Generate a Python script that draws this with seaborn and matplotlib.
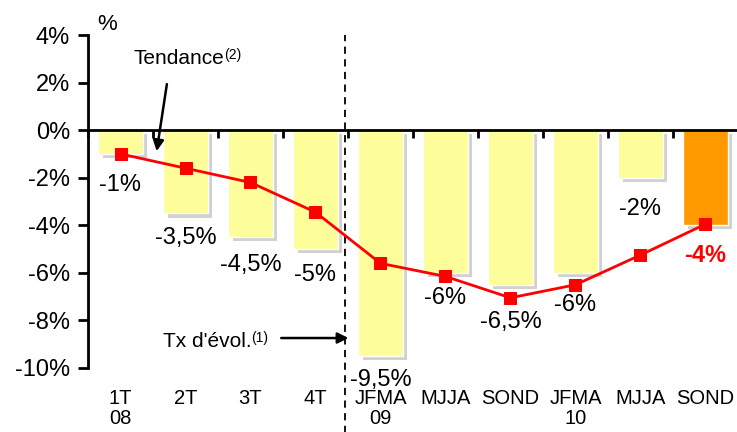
import numpy as np
import pandas as pd
import seaborn as sns
import matplotlib.pyplot as plt
import matplotlib.patheffects as pe

# data
periods = ["1T08", "2T08", "3T08", "4T08", "JFMA09", "MJJA09", "SOND09",
           "JFMA10", "MJJA10", "SOND10"]
tick_labels = ["1T\n08", "2T", "3T", "4T", "JFMA\n09", "MJJA", "SOND",
               "JFMA\n10", "MJJA", "SOND"]
evolution = [-1, -3.5, -4.5, -5, -9.5, -6, -6.5, -6, -2, -4]
trend = [-1.0, -1.6, -2.2, -3.45, -5.6, -6.15, -7.05, -6.5, -5.25, -3.95]
value_labels = ["-1%", "-3,5%", "-4,5%", "-5%", "-9,5%", "-6%", "-6,5%",
                "-6%", "-2%", "-4%"]

# where each value label sits (y, in % units)
label_y = [-2.3, -4.55, -5.65, -6.1, -10.5, -7.05, -8.05, -7.35, -3.3, -5.25]

sns.set_style("white")
plt.rcParams['font.family'] = ['Liberation Sans', 'DejaVu Sans']
plt.rcParams['text.color'] = 'black'
plt.rcParams['axes.edgecolor'] = 'black'
plt.rcParams['xtick.color'] = 'black'
plt.rcParams['ytick.color'] = 'black'

df = pd.DataFrame({"period": periods, "evol": evolution})
colors = ["#FDFD9A"] * 9 + ["#FF9900"]

fig = plt.figure(figsize=(7.37, 4.32), dpi=100)
ax = fig.add_axes([88 / 737, 1 - 368 / 432, 650 / 737, 333 / 432])

sns.barplot(data=df, x="period", y="evol", hue="period", palette=colors,
            legend=False, width=0.68, saturation=1, ax=ax)
for p in ax.patches:
    p.set_path_effects([pe.SimplePatchShadow(offset=(3, -3), shadow_rgbFace='#999999', alpha=0.45),
                        pe.Normal()])

x = np.arange(len(periods))
sns.lineplot(x=x, y=trend, color="red", lw=2, marker="s", markersize=9,
             markeredgecolor="red", ax=ax, zorder=5)

for i, (lab, yy) in enumerate(zip(value_labels, label_y)):
    last = i == len(periods) - 1
    ax.text(i, yy, lab, ha="center", va="center", fontsize=17,
            color="red" if last else "black",
            fontweight="bold" if last else "normal", clip_on=False)

# axes styling
ax.set_xlim(-0.5, 9.5)
ax.set_ylim(-10, 4)
ax.set_yticks(np.arange(-10, 5, 2))
ax.set_yticklabels([f"{v}%" for v in range(-10, 5, 2)], fontsize=17)
ax.set_xlabel("")
ax.set_ylabel("")
ax.spines['top'].set_visible(False)
ax.spines['right'].set_visible(False)
ax.spines['bottom'].set_position(('data', 0))
ax.spines['left'].set_linewidth(2)
ax.spines['bottom'].set_linewidth(2)
ax.tick_params(axis='y', direction='out', length=7, width=2, pad=6, left=True)
ax.set_xticks(np.arange(-0.5, 9.6, 1))
ax.set_xticklabels([])
ax.tick_params(axis='x', direction='out', length=6, width=2, bottom=True)

for i, lab in enumerate(tick_labels):
    ax.text(i, -10.9, lab, ha="center", va="top", fontsize=14.5,
            linespacing=1.05, clip_on=False)

ax.text(-0.2, 4.45, "%", fontsize=16, ha="center", va="center")

# period separator
ax.axvline(3.46, ymin=-0.2, ymax=1, color="black", ls=(0, (4, 3)), lw=1.3,
           clip_on=False)

# annotations
t1 = ax.text(0.2, 3.0, "Tendance", fontsize=15, va="center", ha="left")
ax.annotate("(2)", xy=(1, 1.05), xycoords=t1, fontsize=10, va="top", ha="left")
ax.annotate("", xy=(0.55, -1.0), xytext=(0.72, 2.05),
            arrowprops=dict(arrowstyle="-|>", color="black", lw=1.8,
                            mutation_scale=16))

t2 = ax.text(0.65, -8.87, "Tx d'évol.", fontsize=15, va="center", ha="left")
ax.annotate("(1)", xy=(1, 1.05), xycoords=t2, fontsize=10, va="top", ha="left")
ax.annotate("", xy=(3.55, -8.74), xytext=(2.43, -8.74),
            arrowprops=dict(arrowstyle="-|>", color="black", lw=1.8,
                            mutation_scale=16))

plt.savefig("out.png", dpi=100)
